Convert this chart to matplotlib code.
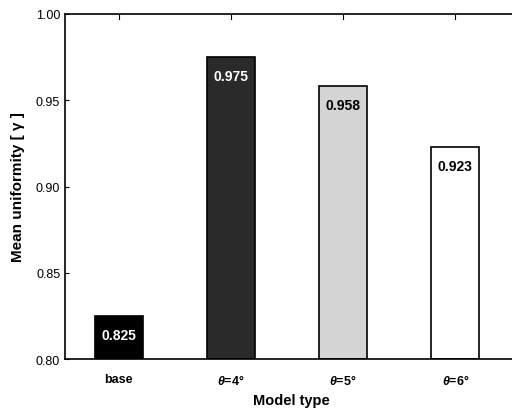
import matplotlib
matplotlib.use("Agg")
import matplotlib.pyplot as plt

categories = ["base", r"$\theta$=4°", r"$\theta$=5°", r"$\theta$=6°"]
values = [0.825, 0.975, 0.958, 0.923]
value_labels = ["0.825", "0.975", "0.958", "0.923"]
bar_colors = ["#000000", "#2a2a2a", "#d4d4d4", "#ffffff"]
text_colors = ["white", "white", "black", "black"]
yticks = [0.80, 0.85, 0.90, 0.95, 1.00]

plt.rcParams['font.family'] = ['Liberation Sans', 'DejaVu Sans']
plt.rcParams['mathtext.fontset'] = 'custom'
plt.rcParams['mathtext.it'] = 'Liberation Sans:italic:bold'
plt.rcParams['mathtext.rm'] = 'Liberation Sans:bold'

fig = plt.figure(figsize=(5.12, 4.14), dpi=100)
ax = fig.add_axes([0.127, 0.130, 0.885, 0.834])

x = list(range(len(categories)))
ax.bar(x, [v - 0.80 for v in values], bottom=0.80, width=0.43,
       color=bar_colors, edgecolor="black", linewidth=1.2)
for xi, v, lab, tc in zip(x, values, value_labels, text_colors):
    ax.text(xi, v - 0.011, lab, ha="center", va="center", color=tc,
            fontsize=10, fontweight="bold")

ax.set_xlim(-0.48, 3.56)
ax.set_ylim(0.80, 1.00)
ax.set_yticks(yticks)
ax.set_yticklabels([f"{t:.2f}" for t in yticks], fontsize=9)
ax.set_xticks(x)
ax.set_xticklabels(categories, fontsize=9, fontweight="bold")
ax.tick_params(axis="x", length=0, pad=10)
ax.tick_params(axis="y", direction="in", length=3, right=True)
for xi in x:
    ax.plot([xi, xi], [1.0, 0.997], color="black", lw=0.8, clip_on=False)
for s in ax.spines.values():
    s.set_linewidth(1.2)

ax.set_xlabel("Model type", fontsize=10.5, fontweight="bold", labelpad=4)
ax.set_ylabel("Mean uniformity [ γ ]", fontsize=11, fontweight="bold", labelpad=8)

fig.savefig("out.png", dpi=100)
